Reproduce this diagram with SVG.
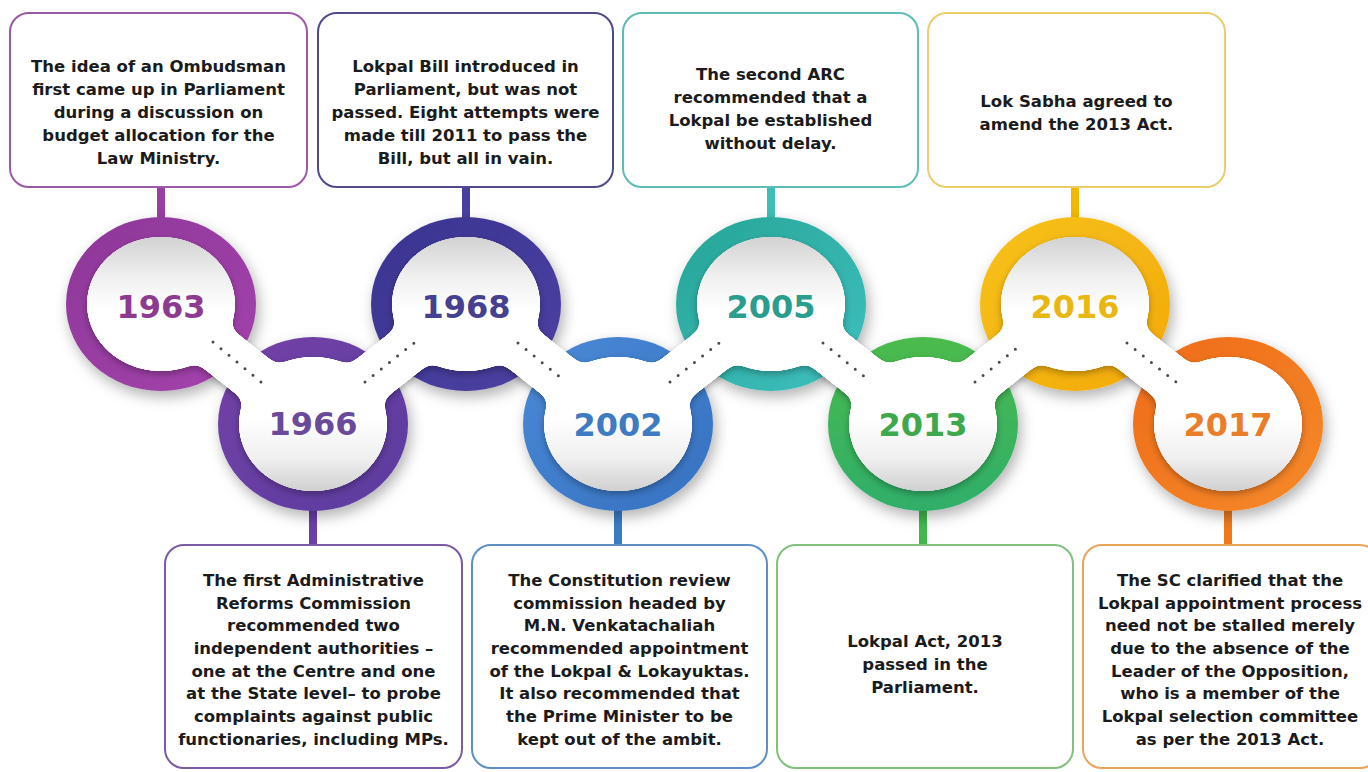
<svg xmlns="http://www.w3.org/2000/svg" width="1368" height="772" viewBox="0 0 1368 772">
  <defs>
    <style>
      .box { fill: #ffffff; stroke-width: 2; }
      .txt { font-family: "DejaVu Sans", "Liberation Sans", sans-serif; font-weight: bold; font-size: 16.5px; fill: #1b1b1b; text-anchor: middle; }
      .year { font-family: "DejaVu Sans", "Liberation Sans", sans-serif; font-weight: bold; font-size: 32px; text-anchor: middle; }
      .stem { stroke-width: 8; }
      .ring { filter: url(#ringShadow); }
      .band { fill: none; stroke: #ffffff; stroke-width: 48; stroke-linejoin: round; stroke-linecap: round; }
      .dots { fill: none; stroke: #4a4a4a; stroke-width: 3; stroke-linecap: round; stroke-dasharray: 0 10.4; }
    </style>
    <filter id="ringShadow" x="-30%" y="-30%" width="160%" height="160%">
      <feDropShadow dx="3" dy="6" stdDeviation="7" flood-color="#000" flood-opacity="0.3"/>
    </filter>
    <!-- smooths the joins between band and hubs, then adds a soft shadow -->
    <filter id="chain" x="-5%" y="-25%" width="110%" height="150%">
      <feGaussianBlur in="SourceGraphic" stdDeviation="6" result="b"/>
      <feColorMatrix in="b" type="matrix" values="1 0 0 0 0  0 1 0 0 0  0 0 1 0 0  0 0 0 24 -11" result="goo"/>
      <feComposite in="SourceGraphic" in2="goo" operator="atop" result="shape"/>
      <feGaussianBlur in="goo" stdDeviation="3.5" result="sb"/>
      <feOffset in="sb" dx="0" dy="3" result="so"/>
      <feFlood flood-color="#000" flood-opacity="0.3" result="fc"/>
      <feComposite in="fc" in2="so" operator="in" result="shadow"/>
      <feMerge><feMergeNode in="shadow"/><feMergeNode in="goo"/><feMergeNode in="shape"/></feMerge>
    </filter>
    <linearGradient id="hubUp" x1="0" y1="0" x2="0" y2="1">
      <stop offset="0" stop-color="#d2d2d2"/>
      <stop offset="0.3" stop-color="#f0f0f0"/>
      <stop offset="0.55" stop-color="#ffffff"/>
    </linearGradient>
    <linearGradient id="hubDown" x1="0" y1="0" x2="0" y2="1">
      <stop offset="0.45" stop-color="#ffffff"/>
      <stop offset="0.75" stop-color="#f0f0f0"/>
      <stop offset="1" stop-color="#d0d0d0"/>
    </linearGradient>
    <linearGradient id="g1963" x1="0" y1="0" x2="1" y2="1"><stop offset="0" stop-color="#8e3799"/><stop offset="1" stop-color="#a443ac"/></linearGradient>
    <linearGradient id="g1966" x1="0" y1="0" x2="1" y2="1"><stop offset="0" stop-color="#7442a8"/><stop offset="1" stop-color="#5b3b9e"/></linearGradient>
    <linearGradient id="g1968" x1="0" y1="0" x2="1" y2="1"><stop offset="0" stop-color="#3a3490"/><stop offset="1" stop-color="#4c41a2"/></linearGradient>
    <linearGradient id="g2002" x1="0" y1="0" x2="1" y2="1"><stop offset="0" stop-color="#4a8ad6"/><stop offset="1" stop-color="#3670c0"/></linearGradient>
    <linearGradient id="g2005" x1="0" y1="0" x2="1" y2="1"><stop offset="0" stop-color="#27a596"/><stop offset="1" stop-color="#3fc0c0"/></linearGradient>
    <linearGradient id="g2013" x1="0" y1="0" x2="0" y2="1"><stop offset="0" stop-color="#4cbb4c"/><stop offset="1" stop-color="#2fae6a"/></linearGradient>
    <linearGradient id="g2016" x1="0" y1="0" x2="1" y2="1"><stop offset="0" stop-color="#f6c21a"/><stop offset="1" stop-color="#f3a90c"/></linearGradient>
    <linearGradient id="g2017" x1="0" y1="0" x2="1" y2="1"><stop offset="0" stop-color="#ef6a18"/><stop offset="1" stop-color="#f58a2a"/></linearGradient>
  </defs>

  <rect width="1368" height="772" fill="#ffffff"/>

  <!-- events: caption box, stem and coloured ring -->
  <g id="node-1963">
    <line class="stem" x1="161" y1="187" x2="161" y2="222" stroke="#9a3ea2"/>
    <rect class="box" x="10" y="13" width="297" height="174" rx="19" stroke="#9b5aa8"/>
    <text class="txt" x="158.5" y="72">The idea of an Ombudsman</text>
    <text class="txt" x="158.5" y="95">first came up in Parliament</text>
    <text class="txt" x="158.5" y="118">during a discussion on</text>
    <text class="txt" x="158.5" y="141">budget allocation for the</text>
    <text class="txt" x="158.5" y="164">Law Ministry.</text>
    <ellipse class="ring" cx="161" cy="304" rx="95" ry="87" fill="url(#g1963)"/>
  </g>

  <g id="node-1966">
    <line class="stem" x1="313" y1="505" x2="313" y2="546" stroke="#6a3fa6"/>
    <rect class="box" x="165" y="545" width="297" height="223" rx="19" stroke="#7d5aa8"/>
    <text class="txt" x="313.5" y="586">The first Administrative</text>
    <text class="txt" x="313.5" y="609">Reforms Commission</text>
    <text class="txt" x="313.5" y="631">recommended two</text>
    <text class="txt" x="313.5" y="654">independent authorities –</text>
    <text class="txt" x="313.5" y="677">one at the Centre and one</text>
    <text class="txt" x="313.5" y="699">at the State level– to probe</text>
    <text class="txt" x="313.5" y="722">complaints against public</text>
    <text class="txt" x="313.5" y="745">functionaries, including MPs.</text>
    <ellipse class="ring" cx="313" cy="424" rx="95" ry="87" fill="url(#g1966)"/>
  </g>

  <g id="node-1968">
    <line class="stem" x1="466" y1="187" x2="466" y2="222" stroke="#4740a0"/>
    <rect class="box" x="318" y="13" width="295" height="174" rx="19" stroke="#4f4a8c"/>
    <text class="txt" x="465.5" y="72">Lokpal Bill introduced in</text>
    <text class="txt" x="465.5" y="95">Parliament, but was not</text>
    <text class="txt" x="465.5" y="118">passed. Eight attempts were</text>
    <text class="txt" x="465.5" y="141">made till 2011 to pass the</text>
    <text class="txt" x="465.5" y="164">Bill, but all in vain.</text>
    <ellipse class="ring" cx="466" cy="304" rx="95" ry="87" fill="url(#g1968)"/>
  </g>

  <g id="node-2002">
    <line class="stem" x1="618" y1="505" x2="618" y2="546" stroke="#3a7cc4"/>
    <rect class="box" x="472" y="545" width="295" height="223" rx="19" stroke="#5d8fc5"/>
    <text class="txt" x="619.5" y="586">The Constitution review</text>
    <text class="txt" x="619.5" y="609">commission headed by</text>
    <text class="txt" x="619.5" y="631">M.N. Venkatachaliah</text>
    <text class="txt" x="619.5" y="654">recommended appointment</text>
    <text class="txt" x="619.5" y="677">of the Lokpal &amp; Lokayuktas.</text>
    <text class="txt" x="619.5" y="699">It also recommended that</text>
    <text class="txt" x="619.5" y="722">the Prime Minister to be</text>
    <text class="txt" x="619.5" y="745">kept out of the ambit.</text>
    <ellipse class="ring" cx="618" cy="424" rx="95" ry="87" fill="url(#g2002)"/>
  </g>

  <g id="node-2005">
    <line class="stem" x1="771" y1="187" x2="771" y2="222" stroke="#3bbfb8"/>
    <rect class="box" x="623" y="13" width="295" height="174" rx="19" stroke="#5bbcb8"/>
    <text class="txt" x="770.5" y="80">The second ARC</text>
    <text class="txt" x="770.5" y="103">recommended that a</text>
    <text class="txt" x="770.5" y="126">Lokpal be established</text>
    <text class="txt" x="770.5" y="149">without delay.</text>
    <ellipse class="ring" cx="771" cy="304" rx="95" ry="87" fill="url(#g2005)"/>
  </g>

  <g id="node-2013">
    <line class="stem" x1="923" y1="505" x2="923" y2="546" stroke="#40b84a"/>
    <rect class="box" x="777" y="545" width="296" height="223" rx="19" stroke="#82c07c"/>
    <text class="txt" x="925" y="647">Lokpal Act, 2013</text>
    <text class="txt" x="925" y="670">passed in the</text>
    <text class="txt" x="925" y="693">Parliament.</text>
    <ellipse class="ring" cx="923" cy="424" rx="95" ry="87" fill="url(#g2013)"/>
  </g>

  <g id="node-2016">
    <line class="stem" x1="1075" y1="187" x2="1075" y2="222" stroke="#f5b800"/>
    <rect class="box" x="928" y="13" width="297" height="174" rx="19" stroke="#ebcd6c"/>
    <text class="txt" x="1076.5" y="107">Lok Sabha agreed to</text>
    <text class="txt" x="1076.5" y="130">amend the 2013 Act.</text>
    <ellipse class="ring" cx="1075" cy="304" rx="95" ry="87" fill="url(#g2016)"/>
  </g>

  <g id="node-2017">
    <line class="stem" x1="1228" y1="505" x2="1228" y2="546" stroke="#f07a1a"/>
    <rect class="box" x="1083" y="545" width="296" height="223" rx="19" stroke="#eaa45a"/>
    <text class="txt" x="1230" y="586">The SC clarified that the</text>
    <text class="txt" x="1230" y="609">Lokpal appointment process</text>
    <text class="txt" x="1230" y="631">need not be stalled merely</text>
    <text class="txt" x="1230" y="654">due to the absence of the</text>
    <text class="txt" x="1230" y="677">Leader of the Opposition,</text>
    <text class="txt" x="1230" y="699">who is a member of the</text>
    <text class="txt" x="1230" y="722">Lokpal selection committee</text>
    <text class="txt" x="1230" y="745">as per the 2013 Act.</text>
    <ellipse class="ring" cx="1228" cy="424" rx="95" ry="87" fill="url(#g2017)"/>
  </g>

  <!-- white chain linking the years, with dotted guides -->
  <g id="connectors">
    <g filter="url(#chain)">
      <path class="band" d="M161,304 L313,424 L466,304 L618,424 L771,304 L923,424 L1075,304 L1228,424"/>
      <ellipse cx="161" cy="304" rx="74" ry="67" fill="url(#hubUp)"/>
      <ellipse cx="313" cy="424" rx="74" ry="67" fill="url(#hubDown)"/>
      <ellipse cx="466" cy="304" rx="74" ry="67" fill="url(#hubUp)"/>
      <ellipse cx="618" cy="424" rx="74" ry="67" fill="url(#hubDown)"/>
      <ellipse cx="771" cy="304" rx="74" ry="67" fill="url(#hubUp)"/>
      <ellipse cx="923" cy="424" rx="74" ry="67" fill="url(#hubDown)"/>
      <ellipse cx="1075" cy="304" rx="74" ry="67" fill="url(#hubUp)"/>
      <ellipse cx="1228" cy="424" rx="74" ry="67" fill="url(#hubDown)"/>
    </g>
    <path class="dots" d="M213,342 L261,382"/>
    <path class="dots" d="M365,382 L414,343"/>
    <path class="dots" d="M518,343 L566,382"/>
    <path class="dots" d="M670,382 L719,343"/>
    <path class="dots" d="M823,343 L871,382"/>
    <path class="dots" d="M975,382 L1023,343"/>
    <path class="dots" d="M1127,343 L1176,382" stroke="#8a8a6a"/>
  </g>

  <!-- year labels -->
  <g id="years">
    <text class="year" x="161" y="318" fill="#8d3b91">1963</text>
    <text class="year" x="313" y="435" fill="#6a4a9a">1966</text>
    <text class="year" x="466" y="318" fill="#45408f">1968</text>
    <text class="year" x="618" y="436" fill="#3f7bc3">2002</text>
    <text class="year" x="771" y="318" fill="#2a9d8e">2005</text>
    <text class="year" x="923" y="436" fill="#3ea84c">2013</text>
    <text class="year" x="1075" y="318" fill="#e9b712">2016</text>
    <text class="year" x="1228" y="436" fill="#ea7d27">2017</text>
  </g>
</svg>
